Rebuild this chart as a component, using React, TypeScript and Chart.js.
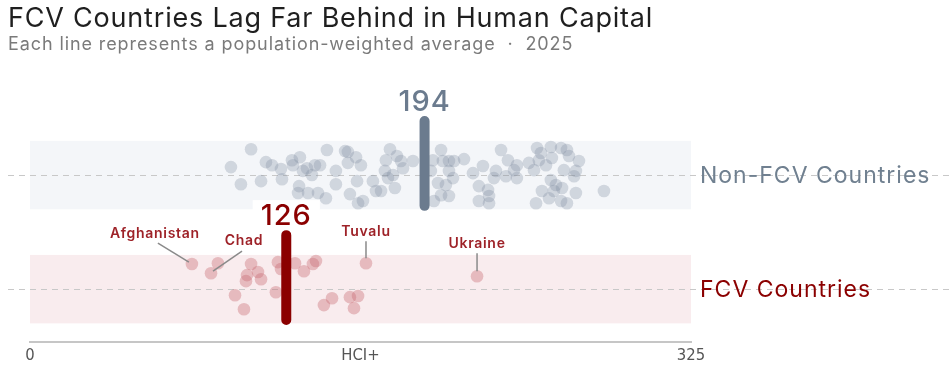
import React, { useEffect, useRef } from 'react';
import { Chart, registerables } from 'chart.js';
Chart.register(...registerables);

const TITLE = 'FCV Countries Lag Far Behind in Human Capital';
const SUBTITLE = 'Each line represents a population-weighted average  ·  2025';

const groupNames = ['FCV Countries', 'Non-FCV Countries'];
const groupCenters = [0, 3];
const averages = [126, 194];

const xTickValues = [0, 162.5, 325];
const xTickLabels = ['0', 'HCI+', '325'];

const nonFcvX = [
  108.7, 98.8, 103.7, 113.6, 116.0, 119.0, 123.4, 128.8, 129.3, 132.7, 134.2, 136.2, 123.9, 132.3, 131.8, 136.7, 140.1, 138.6,
  146.0, 154.9, 156.3, 160.3, 156.3, 162.7, 142.6, 150.4, 160.8, 150.4, 141.6, 145.5, 157.3, 161.3, 163.7, 168.6, 170.1, 172.6,
  174.5, 176.0, 179.4, 175.0, 177.0, 180.4, 182.4, 183.4, 188.3, 178.5, 202.1, 198.1, 203.0, 206.0, 208.5, 213.4, 197.1, 206.0,
  208.0, 200.6, 204.5, 202.1, 206.0, 198.6, 217.8, 222.7, 220.7, 225.2, 225.7, 220.7, 225.7, 229.1, 228.1, 231.6, 235.0, 234.0,
  238.0, 249.3, 256.1, 261.1, 264.0, 251.2, 250.2, 256.6, 253.7, 265.0, 269.9, 245.3, 247.8, 239.4, 239.4, 262.5, 268.4, 267.5,
  256.1, 258.6, 261.6, 251.7, 257.6, 268.4, 255.2, 248.8, 261.1, 264.0, 282.2,
];
const nonFcvJitter = [
  0.68, 0.21, -0.24, -0.16, 0.34, 0.26, 0.16, 0.39, 0.26, 0.47, 0.11, 0.18, -0.11, -0.29, -0.47, -0.47, 0.26, 0.0,
  0.66, 0.63, 0.61, 0.47, 0.32, 0.26, 0.26, 0.11, -0.16, -0.24, -0.47, -0.61, -0.5, -0.74, -0.68, -0.16, -0.42, -0.42,
  0.11, -0.08, -0.34, 0.39, 0.68, 0.5, 0.37, 0.18, 0.37, 0.0, 0.66, 0.39, 0.37, 0.37, 0.37, 0.42, 0.11, 0.11,
  -0.08, -0.21, -0.26, -0.53, -0.55, -0.68, 0.05, 0.24, -0.29, -0.39, -0.55, -0.68, -0.74, 0.11, -0.08, 0.66, 0.39, -0.03,
  0.13, 0.71, 0.74, 0.71, 0.66, 0.58, 0.39, 0.45, 0.26, 0.5, 0.37, 0.32, 0.13, 0.26, -0.08, 0.13, 0.11, -0.03,
  -0.13, -0.26, -0.34, -0.42, -0.42, -0.47, -0.61, -0.74, -0.68, -0.74, -0.42,
];

const fcvX = [
  79.6, 92.4, 89.0, 108.7, 112.1, 106.7, 106.2, 113.6, 100.8, 105.2, 121.9, 123.4, 120.9, 130.3, 134.7, 139.1, 140.6,
  144.5, 148.5, 157.3, 161.3, 159.3, 165.2, 219.8,
];
const fcvJitter = [
  0.66, 0.68, 0.42, 0.66, 0.45, 0.37, 0.21, 0.26, -0.16, -0.53, 0.71, 0.53, -0.08, 0.68, 0.47, 0.66, 0.74,
  -0.42, -0.24, -0.21, -0.18, -0.5, 0.68, 0.34,
];

const annotatedNames = ['Afghanistan', 'Chad', 'Tuvalu', 'Ukraine'];
const annotatedIndex = [0, 2, 22, 23];

// label placement styles (pixels, relative to the point)
const annotationStyle = [
  { dx: -37, dy: -30, l1: [-34, -21], l2: [-3, -2] },
  { dx: 33, dy: -32, l1: [31, -22], l2: [2, -2] },
  { dx: 0, dy: -31, l1: [0, -22], l2: [0, -5] },
  { dx: 0, dy: -32, l1: [0, -23], l2: [0, -5] },
];

const BAND_HALF = 0.9;
const BAR_TOP = 1.42;
const BAR_BOTTOM = -0.81;
const FONT = 'Inter, "Open Sans", sans-serif';

const NON_COLOR = '#6b7b8e';
const FCV_COLOR = '#8b0000';

const overlayPlugin = {
  id: 'overlay',
  beforeDatasetsDraw(chart: any) {
    const { ctx, scales } = chart;
    const xs = scales.x, ys = scales.y;
    const bandColors = ['#f9ecee', '#f4f6f9'];
    ctx.save();
    groupCenters.forEach((c, i) => {
      const top = ys.getPixelForValue(c + BAND_HALF);
      const bot = ys.getPixelForValue(c - BAND_HALF);
      ctx.fillStyle = bandColors[i];
      ctx.fillRect(xs.getPixelForValue(0), top, xs.getPixelForValue(325) - xs.getPixelForValue(0), bot - top);
    });
    ctx.strokeStyle = '#c8c8c8';
    ctx.lineWidth = 1;
    ctx.setLineDash([6, 5]);
    groupCenters.forEach((c) => {
      const y = Math.round(ys.getPixelForValue(c)) + 0.5;
      ctx.beginPath();
      ctx.moveTo(8, y);
      ctx.lineTo(chart.width, y);
      ctx.stroke();
    });
    ctx.restore();
  },
  afterDatasetsDraw(chart: any) {
    const { ctx, chartArea, scales } = chart;
    const xs = scales.x, ys = scales.y;
    ctx.save();
    // group labels on the right
    ctx.textBaseline = 'middle';
    ctx.textAlign = 'left';
    ctx.font = `23px ${FONT}`;
    (ctx as any).letterSpacing = '1px';
    const colors = [FCV_COLOR, '#708090'];
    groupCenters.forEach((c, i) => {
      ctx.fillStyle = colors[i];
      ctx.fillText(groupNames[i], chartArea.right + 9, ys.getPixelForValue(c) + 1);
    });
    // average labels
    ctx.font = `500 29px ${FONT}`;
    (ctx as any).letterSpacing = '1px';
    ctx.textAlign = 'center';
    ctx.textBaseline = 'alphabetic';
    const avgColors = [FCV_COLOR, NON_COLOR];
    averages.forEach((a, i) => {
      const x = xs.getPixelForValue(a);
      const y = ys.getPixelForValue(groupCenters[i] + BAR_TOP) - 10;
      const w = ctx.measureText(String(a)).width;
      if (i === 0) {
        ctx.fillStyle = '#ffffff';
        ctx.fillRect(x - w / 2 - 8, y - 25, w + 16, 28);
      }
      ctx.fillStyle = avgColors[i];
      ctx.fillText(String(a), x, y);
    });
    // annotations
    ctx.font = `600 14px ${FONT}`;
    (ctx as any).letterSpacing = '0.7px';
    annotatedNames.forEach((name, k) => {
      const idx = annotatedIndex[k];
      const px = xs.getPixelForValue(fcvX[idx]);
      const py = ys.getPixelForValue(groupCenters[0] + fcvJitter[idx]);
      const s = annotationStyle[k];
      ctx.strokeStyle = '#8a8a8a';
      ctx.lineWidth = 1.5;
      ctx.setLineDash([]);
      ctx.beginPath();
      ctx.moveTo(px + s.l1[0], py + s.l1[1]);
      ctx.lineTo(px + s.l2[0], py + s.l2[1]);
      ctx.stroke();
      ctx.fillStyle = '#9e2228';
      ctx.textAlign = 'center';
      ctx.textBaseline = 'middle';
      ctx.fillText(name, px + s.dx, py + s.dy);
    });
    ctx.restore();
  },
};

export default function App() {
  const ref = useRef<HTMLCanvasElement>(null);
  useEffect(() => {
    if (!ref.current) return;
    const nonPts = nonFcvX.map((x, i) => ({ x, y: groupCenters[1] + nonFcvJitter[i] }));
    const fcvPts = fcvX.map((x, i) => ({ x, y: groupCenters[0] + fcvJitter[i] }));
    const chart = new Chart(ref.current, {
      type: 'scatter',
      data: {
        datasets: [
          {
            type: 'line',
            data: [
              { x: averages[1], y: groupCenters[1] + BAR_TOP },
              { x: averages[1], y: groupCenters[1] + BAR_BOTTOM },
            ],
            borderColor: NON_COLOR,
            borderWidth: 10,
            borderCapStyle: 'round',
            pointRadius: 0,
            order: 1,
          } as any,
          {
            type: 'line',
            data: [
              { x: averages[0], y: groupCenters[0] + BAR_TOP },
              { x: averages[0], y: groupCenters[0] + BAR_BOTTOM },
            ],
            borderColor: FCV_COLOR,
            borderWidth: 10,
            borderCapStyle: 'round',
            pointRadius: 0,
            order: 1,
          } as any,
          {
            data: nonPts,
            backgroundColor: 'rgba(125,138,160,0.3)',
            borderWidth: 0,
            pointRadius: 6.3,
            order: 2,
          },
          {
            data: fcvPts,
            backgroundColor: 'rgba(200,104,114,0.38)',
            borderWidth: 0,
            pointRadius: 6.3,
            order: 2,
          },
        ],
      },
      options: {
        animation: false,
        responsive: false,
        events: [],
        layout: { padding: { left: 30, right: 260, top: 80, bottom: 15 } },
        plugins: { legend: { display: false }, tooltip: { enabled: false } },
        scales: {
          x: {
            type: 'linear',
            min: 0,
            max: 325,
            afterBuildTicks: (axis: any) => {
              axis.ticks = xTickValues.map((v) => ({ value: v }));
            },
            ticks: {
              padding: 4,
              color: '#555',
              font: { size: 16.5, family: '"Liberation Sans Narrow", "DejaVu Sans Condensed", sans-serif' },
              maxRotation: 0,
              autoSkip: false,
              callback: (v: any) => {
                const i = xTickValues.indexOf(Number(v));
                return i >= 0 ? xTickLabels[i] : '';
              },
            },
            grid: { display: false, drawTicks: false },
            border: { display: true, color: '#c6c6c6', width: 2 },
          },
          y: {
            type: 'linear',
            display: false,
            min: -1.395,
            max: 5.5,
          },
        },
      },
      plugins: [overlayPlugin],
    });
    return () => chart.destroy();
  }, []);
  return (
    <div style={{ position: 'fixed', left: 0, top: 0, width: 951, height: 385, background: '#fff' }}>
      <canvas ref={ref} width={951} height={385} style={{ position: 'absolute', left: 0, top: 0 }} />
      <div
        style={{
          position: 'absolute', left: 8, top: 2, fontFamily: FONT, fontSize: 27, color: '#1f1f1f',
          lineHeight: '32px', whiteSpace: 'nowrap', letterSpacing: '0.8px',
        }}
      >
        {TITLE}
      </div>
      <div
        style={{
          position: 'absolute', left: 8, top: 33, fontFamily: FONT, fontSize: 18, color: '#7a7a7a',
          lineHeight: '22px', whiteSpace: 'pre', letterSpacing: '0.9px',
        }}
      >
        {SUBTITLE}
      </div>
    </div>
  );
}
